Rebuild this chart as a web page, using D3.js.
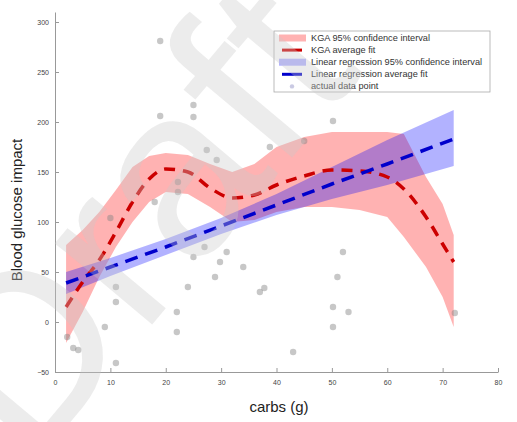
<!doctype html>
<html>
<head>
<meta charset="UTF-8">
<title>carbs vs blood glucose</title>
<script src="https://d3js.org/d3.v7.min.js"></script>
<style>
  body { margin: 0; background: #fff; }
  text { font-family: "Liberation Sans", Arial, sans-serif; }
</style>
</head>
<body>
<script>
// actual data points (carbs g, glucose impact)
var carbs  = [19, 19, 25, 25, 27.4, 29.2, 22.2, 22.2, 18, 38.8, 45, 50.2, 10, 2.2, 3.3, 4.2, 9, 11, 11, 11,
              22, 22, 24, 25, 27, 29.8, 28.9, 31, 34, 37, 37.8, 52, 51, 50.2, 53, 50.2, 43, 72.2];
var impact = [281, 206, 217, 205, 172, 162, 140, 130, 120, 175, 181, 201, 104, -15, -26, -28, -5, 20, 35, -41,
              10, -10, 35, 65, 75, 60, 45, 70, 55, 30, 34, 70, 45, 15, 10, -5, -30, 9];

// KGA fit + band
var kgaX     = [2, 5, 8, 11, 14, 17, 20, 24, 28, 32, 36, 40, 45, 50, 55, 60, 63, 67, 70, 72];
var kgaFit   = [15, 40, 62, 90, 120, 143, 153, 150, 134, 124, 127, 137, 146, 152, 151, 145, 133, 105, 78, 60];
var kgaUpper = [77, 92, 110, 132, 155, 166, 169, 167, 158, 150, 158, 175, 185, 190, 190, 190, 188, 145, 118, 87];
var kgaLower = [-21, 10, 45, 75, 100, 120, 130, 128, 115, 100, 102, 110, 115, 115, 112, 105, 85, 55, 25, -5];

// linear regression fit + band
var linX     = [2, 10, 20, 30, 40, 50, 60, 72];
var linFit   = [39, 55, 75, 96, 117, 138, 158, 183];
var linUpper = [50, 64, 83, 104, 128, 155, 182, 212];
var linLower = [28, 46, 67, 88, 107, 123, 137, 156];

var xTicks = [0, 10, 20, 30, 40, 50, 60, 70, 80];
var yTicks = [-50, 0, 50, 100, 150, 200, 250, 300];

var legendLabels = ["KGA 95% confidence interval", "KGA average fit",
                    "Linear regression 95% confidence interval", "Linear regression average fit",
                    "actual data point"];

var W = 517, H = 422;
var svg = d3.select("body").append("svg").attr("width", W).attr("height", H);

var x = d3.scaleLinear().domain([0, 80]).range([55, 498]);
var y = d3.scaleLinear().domain([-50, 310]).range([372, 12]);

var redFill = "rgba(255,0,0,0.3)", blueFill = "rgba(0,0,255,0.3)";
var redLine = "#cc0000", blueLine = "#0000cc";

function band(xs, lo, hi) {
  return d3.area().x(function(d, i){ return x(xs[i]); })
    .y0(function(d, i){ return y(lo[i]); })
    .y1(function(d, i){ return y(hi[i]); })(xs);
}
function line(xs, ys, curve) {
  return d3.line().x(function(d, i){ return x(xs[i]); })
    .y(function(d, i){ return y(ys[i]); }).curve(curve)(xs);
}

// axes
var gx = svg.append("g").attr("transform", "translate(0," + y(-50) + ")")
  .call(d3.axisBottom(x).tickValues(xTicks).tickSizeInner(-4).tickSizeOuter(0).tickPadding(8));
var gy = svg.append("g").attr("transform", "translate(" + x(0) + ",0)")
  .call(d3.axisLeft(y).tickValues(yTicks).tickSizeInner(-4).tickSizeOuter(0).tickPadding(6));
[gx, gy].forEach(function(g){
  g.select(".domain").attr("stroke", "#999");
  g.selectAll(".tick line").attr("stroke", "#999");
  g.selectAll(".tick text").attr("fill", "#444").style("font-size", "7px");
});

// bands
svg.append("path").attr("d", band(kgaX, kgaLower, kgaUpper)).attr("fill", redFill);
svg.append("path").attr("d", band(linX, linLower, linUpper)).attr("fill", blueFill);

// points
svg.append("g").selectAll("circle").data(carbs).enter().append("circle")
  .attr("cx", function(d){ return x(d); })
  .attr("cy", function(d, i){ return y(impact[i]); })
  .attr("r", 3.2)
  .attr("fill", "rgba(130,130,130,0.45)");

// fit lines
svg.append("path").attr("d", line(kgaX, kgaFit, d3.curveMonotoneX))
  .attr("fill", "none").attr("stroke", redLine).attr("stroke-width", 3.5)
  .attr("stroke-dasharray", "11,8");
svg.append("path").attr("d", line(linX, linFit, d3.curveLinear))
  .attr("fill", "none").attr("stroke", blueLine).attr("stroke-width", 3.5)
  .attr("stroke-dasharray", "13,8");

// axis labels
svg.append("text").attr("x", 279).attr("y", 412).attr("text-anchor", "middle")
  .style("font-size", "15px").attr("fill", "#222").text("carbs (g)");
svg.append("text").attr("transform", "translate(22,210) rotate(-90)").attr("text-anchor", "middle")
  .style("font-size", "15px").attr("fill", "#222").text("Blood glucose impact");

// legend
var lg = svg.append("g");
lg.append("rect").attr("x", 274).attr("y", 31).attr("width", 216).attr("height", 61)
  .attr("fill", "#fff").attr("stroke", "#aaa").attr("stroke-width", 0.8);
legendLabels.forEach(function(t, i){
  var yy = 38 + i * 12.1;
  if (i === 0 || i === 2) {
    lg.append("rect").attr("x", 279).attr("y", yy - 3.5).attr("width", 27).attr("height", 7)
      .attr("fill", i === 0 ? redFill : blueFill);
  } else if (i === 1 || i === 3) {
    lg.append("line").attr("x1", 282).attr("x2", 302).attr("y1", yy).attr("y2", yy)
      .attr("stroke", i === 1 ? redLine : blueLine).attr("stroke-width", 3);
  } else {
    lg.append("circle").attr("cx", 292).attr("cy", yy).attr("r", 2.2).attr("fill", "rgba(150,150,200,0.5)");
  }
  lg.append("text").attr("x", 311).attr("y", yy + 3).style("font-size", "9.2px").attr("fill", "#333").text(t);
});

// watermark
svg.append("text").attr("transform", "translate(30,470) rotate(-50)")
  .style("font-size", "240px")
  .attr("fill", "rgba(200,200,200,0.35)").text("Draft");
</script>
</body>
</html>
